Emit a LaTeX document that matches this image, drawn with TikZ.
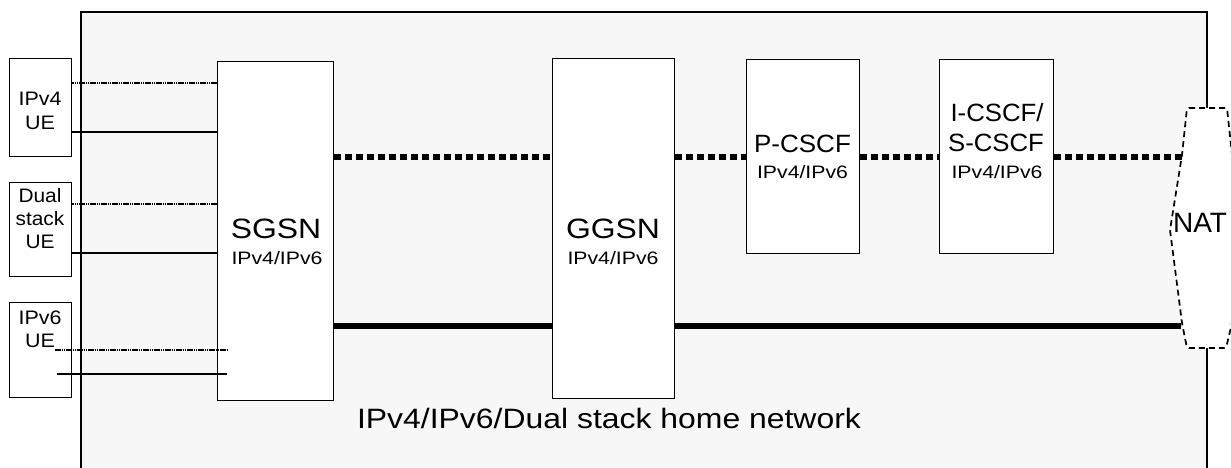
\documentclass[tikz,border=0pt]{standalone}
\usepackage{fontspec}
\setmainfont{Liberation Sans}
\usepackage{graphicx}
\definecolor{netbg}{HTML}{F7F7F7}
\newcommand\sx[2]{\scalebox{#1}[1]{#2}}
\begin{document}
\begin{tikzpicture}[x=1pt,y=-1pt,
  box/.style={draw, line width=1.4pt, fill=white, inner sep=0pt, anchor=north west},
  tbig/.style={font=\fontsize{28}{30}\selectfont, inner sep=0pt, anchor=base},
  tmed/.style={font=\fontsize{25}{27}\selectfont, inner sep=0pt, anchor=base},
  tsmall/.style={font=\fontsize{18}{20}\selectfont, inner sep=0pt, anchor=base},
  tue/.style={font=\fontsize{19.5}{21}\selectfont, inner sep=0pt, anchor=base},
  thindot/.style={line width=1.6pt, dash pattern=on 1.5pt off 0.7pt},
  thinline/.style={line width=1.4pt},
  thickdot/.style={line width=5.5pt, dash pattern=on 7pt off 4pt},
  thickline/.style={line width=5.5pt},
  natline/.style={line width=1.7pt, dash pattern=on 6pt off 4pt}]

\useasboundingbox (0,0) rectangle (1231,468);
\path[fill=white] (0,0) rectangle (1231,468);

% home network area
\draw[line width=1.4pt, fill=netbg] (81,12) rectangle (1207,495);

% NAT
\draw[natline, fill=white, rounded corners=2pt]
  (1187,108) -- (1227,108) -- (1232,155) -- (1244,230) -- (1232,323)
  -- (1226,348) -- (1187,348) -- (1182,323) -- (1170,230) -- (1182,155) -- cycle;
\coordinate (natA) at (1182,157);
\coordinate (natB) at (1181,326);
\node[tbig] (natT) at (1200,232) {NAT};

% UE boxes
\node[box, minimum width=62pt, minimum height=98pt] (ue4) at (9,58) {};
\node[box, minimum width=62pt, minimum height=94pt] (ued) at (9,182) {};
\node[box, minimum width=62pt, minimum height=95pt] (ue6) at (9,302) {};

% network element boxes
\node[box, minimum width=116pt, minimum height=339pt] (sgsn) at (217,61) {};
\node[box, minimum width=122pt, minimum height=340pt] (ggsn) at (552,58) {};
\node[box, minimum width=113pt, minimum height=194pt] (pcscf) at (746,59) {};
\node[box, minimum width=114pt, minimum height=194pt] (icscf) at (939,59) {};

% UE -> SGSN connections
\draw[thindot] (ue4.east |- 0,83) -- (sgsn.west |- 0,83);
\draw[thinline] (ue4.east |- 0,132) -- (sgsn.west |- 0,132);
\draw[thindot] (ued.east |- 0,204) -- (sgsn.west |- 0,204);
\draw[thinline] (ued.east |- 0,253) -- (sgsn.west |- 0,253);
\coordinate (v6a) at (55,350);
\coordinate (v6b) at (227,350);
\coordinate (v6c) at (57,374);
\coordinate (v6d) at (227,374);
\draw[thindot] (v6a) -- (v6b);
\draw[thinline] (v6c) -- (v6d);

% signalling (dotted) path
\draw[thickdot] (sgsn.east |- 0,157) -- (ggsn.west |- 0,157);
\draw[thickdot] (ggsn.east |- 0,157) -- (pcscf.west |- 0,157);
\draw[thickdot] (pcscf.east |- 0,157) -- (icscf.west |- 0,157);
\draw[thickdot] (icscf.east |- 0,157) -- (natA);

% user plane (solid) path
\draw[thickline] (sgsn.east |- 0,326) -- (ggsn.west |- 0,326);
\draw[thickline] (ggsn.east |- 0,326) -- (natB);

% labels
\node[tue] (ue4a) at (40,106) {\sx{1.1}{IPv4}};
\node[tue] (ue4b) at (40,129) {\sx{1.1}{UE}};
\node[tue] (ueda) at (40,202) {\sx{1.07}{Dual}};
\node[tue] (uedb) at (40,225) {\sx{1.07}{stack}};
\node[tue] (uedc) at (40,248) {\sx{1.07}{UE}};
\node[tue] (ue6a) at (40,324) {\sx{1.1}{IPv6}};
\node[tue] (ue6b) at (40,347) {\sx{1.1}{UE}};

\node[tbig] (sgsnT) at (276,238) {\sx{1.14}{SGSN}};
\node[tsmall] (sgsnV) at (277,264) {\sx{1.18}{IPv4/IPv6}};
\node[tbig] (ggsnT) at (613,238) {\sx{1.14}{GGSN}};
\node[tsmall] (ggsnV) at (613,264) {\sx{1.18}{IPv4/IPv6}};

\node[tmed] (pcscfT) at (802.5,153) {\sx{1.04}{P-CSCF}};
\node[tsmall] (pcscfV) at (802.5,178) {\sx{1.18}{IPv4/IPv6}};
\node[tmed] (icscfT) at (997,122) {\sx{1.03}{I-CSCF/}};
\node[tmed] (scscfT) at (996,152) {\sx{1.03}{S-CSCF}};
\node[tsmall] (icscfV) at (997,178) {\sx{1.18}{IPv4/IPv6}};

\node[tbig] (netT) at (609,428) {\sx{1.14}{IPv4/IPv6/Dual stack home network}};
\end{tikzpicture}
\end{document}
